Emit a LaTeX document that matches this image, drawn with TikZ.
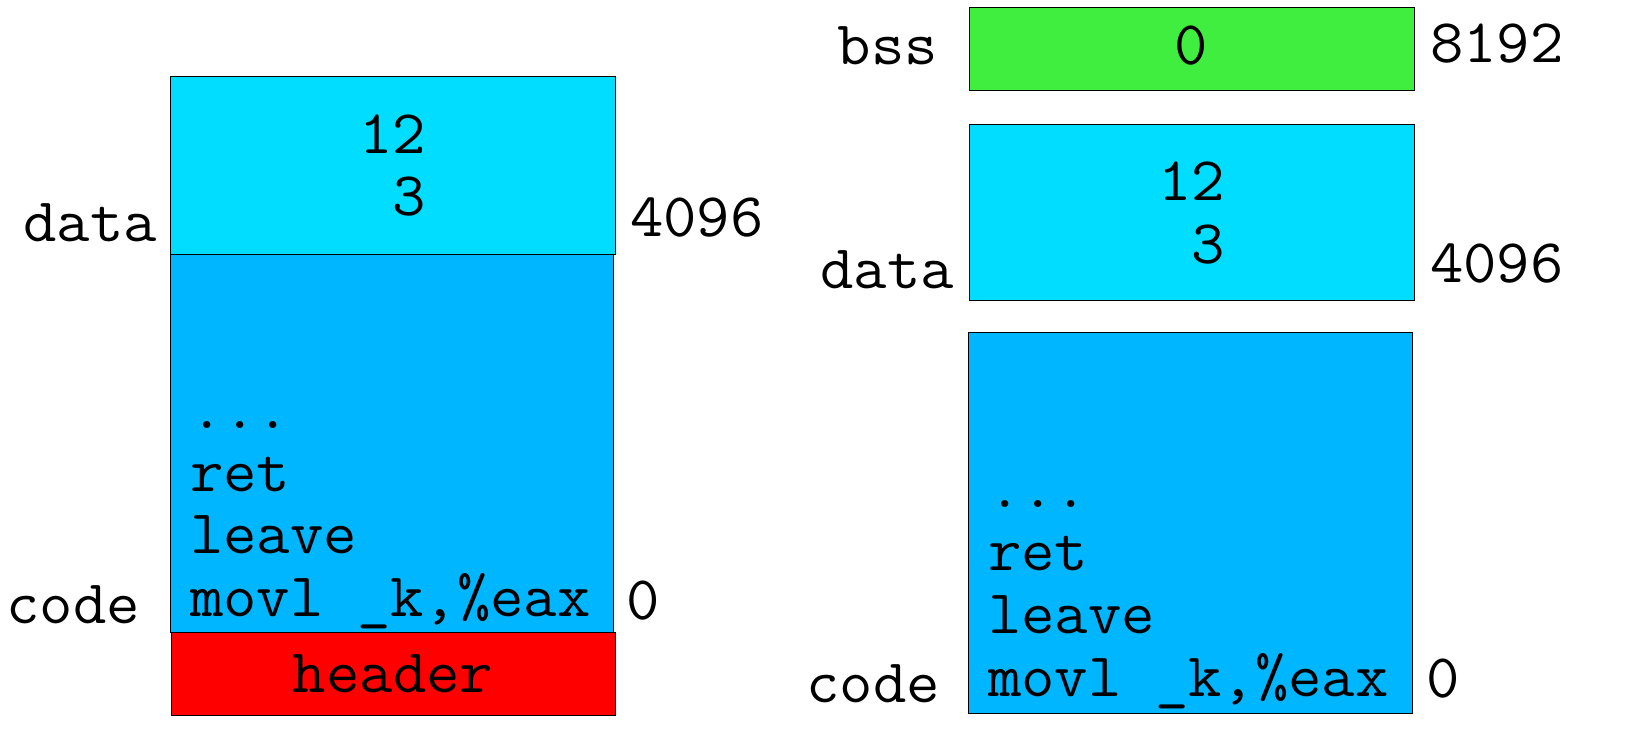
\documentclass[tikz,border=0pt]{standalone}
\usepackage{fontspec}
\setmonofont{Latin Modern Mono}[FakeStretch=1.045]
\definecolor{datacol}{RGB}{0,221,255}
\definecolor{codecol}{RGB}{0,183,255}
\definecolor{bsscol}{RGB}{63,238,63}
\definecolor{hdrcol}{RGB}{255,0,0}
\begin{document}
\begin{tikzpicture}[x=1pt,y=-1pt,
  seg/.style={draw=black,line width=1pt,inner sep=0pt,anchor=north west},
  txt/.style={font=\fontsize{62}{62}\selectfont\ttfamily,inner sep=0pt,anchor=base},
  txtl/.style={txt,anchor=base west},
  txtr/.style={txt,anchor=base east}]
\useasboundingbox (0,0) rectangle (1648,751);
% ---------- left ----------
\node[seg,fill=datacol,minimum width=445pt,minimum height=178pt] (ldata) at (170,76) {};
\node[seg,fill=codecol,minimum width=443pt,minimum height=378pt] (lcode) at (170,254) {};
\node[seg,fill=hdrcol,minimum width=444pt,minimum height=83pt] (lhdr) at (171,632) {};
\node[txt] (l12) at (392.5,154) {12};
\node[txtr] (l3) at (426,216) {3};
\node[txtl] (ldots) at (190,428) {...};
\node[txtl] (lret) at (190,491) {ret};
\node[txtl] (lleave) at (190,553) {leave};
\node[txtl] (lmovl) at (190,616) {movl \_k,\%eax};
\node[txt] (lheader) at (393,692) {header};
\node[txtr] (ldatalbl) at (157,242) {data};
\node[txtl] (l4096) at (630,237) {4096};
\node[txtr] (lcodelbl) at (140,623) {code};
\node[txtl] (l0) at (626,619) {0};
% ---------- right ----------
\node[seg,fill=bsscol,minimum width=445pt,minimum height=83pt] (rbss) at (969,7) {};
\node[seg,fill=datacol,minimum width=445pt,minimum height=176pt] (rdata) at (969,124) {};
\node[seg,fill=codecol,minimum width=444pt,minimum height=381pt] (rcode) at (968,332) {};
\node[txt] (rzero) at (1191.5,65) {0};
\node[txtr] (rbsslbl) at (938,65) {bss};
\node[txtl] (r8192) at (1430,63) {8192};
\node[txt] (r12) at (1191.5,201) {12};
\node[txtr] (r3) at (1225,264) {3};
\node[txtr] (rdatalbl) at (954,288) {data};
\node[txtl] (r4096) at (1430,283) {4096};
\node[txtl] (rdots) at (988,507) {...};
\node[txtl] (rret) at (988,570) {ret};
\node[txtl] (rleave) at (988,633) {leave};
\node[txtl] (rmovl) at (988,696) {movl \_k,\%eax};
\node[txtr] (rcodelbl) at (940,702) {code};
\node[txtl] (r0) at (1426,697) {0};
\end{tikzpicture}
\end{document}
